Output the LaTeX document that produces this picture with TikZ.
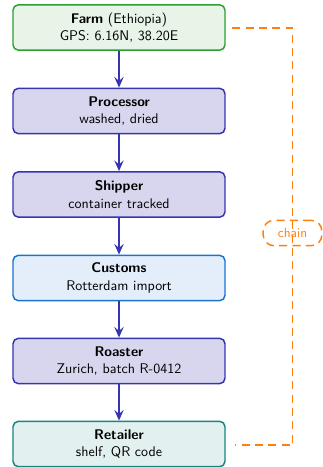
\documentclass[tikz,border=0pt]{standalone}
\usetikzlibrary{arrows.meta}
\definecolor{farmD}{HTML}{2E9E35}
\definecolor{farmL}{HTML}{E8F4E8}
\definecolor{procD}{HTML}{3535B0}
\definecolor{procL}{HTML}{D7D6EE}
\definecolor{custD}{HTML}{1A73D0}
\definecolor{custL}{HTML}{E3EEFA}
\definecolor{retD}{HTML}{17877E}
\definecolor{retL}{HTML}{E2F0EF}
\definecolor{chainC}{HTML}{FF7F0E}
\tikzset{
  box/.style={rectangle, rounded corners=4pt, line width=1.1pt, minimum width=159pt, minimum height=34pt, align=center, font=\sffamily\fontsize{10.5}{13}\selectfont, inner sep=2pt},
  farmbox/.style={box, draw=farmD, fill=farmL},
  procbox/.style={box, draw=procD, fill=procL},
  custbox/.style={box, draw=custD, fill=custL},
  retbox/.style={box, draw=retD, fill=retL},
  flow/.style={draw=procD, line width=1.2pt, -{Stealth[length=8pt,width=7pt,inset=3pt]}},
  chainline/.style={draw=chainC, line width=1.1pt, dash pattern=on 6pt off 4pt},
  chainlbl/.style={draw=chainC, line width=1.1pt, dash pattern=on 6pt off 4pt, rounded corners=8pt, text=chainC, font=\sffamily\fontsize{10}{12}\selectfont, minimum width=44pt, minimum height=19pt, inner sep=2pt}
}
\begin{document}
\begin{tikzpicture}[x=0.75pt,y=-0.75pt]
\useasboundingbox (0,0) rectangle (322,467);
\node[farmbox] (farm) at (119,27.5) {\textbf{Farm} (Ethiopia)\\GPS: 6.16N, 38.20E};
\node[procbox] (proc) at (119,111) {\textbf{Processor}\\washed, dried};
\node[procbox] (ship) at (119,194.5) {\textbf{Shipper}\\container tracked};
\node[custbox] (cust) at (119,278) {\textbf{Customs}\\Rotterdam import};
\node[procbox] (roast) at (119,361) {\textbf{Roaster}\\Zurich, batch R-0412};
\node[retbox] (ret) at (119,444) {\textbf{Retailer}\\shelf, QR code};
\draw[flow] (farm) -- (proc);
\draw[flow] (proc) -- (ship);
\draw[flow] (ship) -- (cust);
\draw[flow] (cust) -- (roast);
\draw[flow] (roast) -- (ret);
\coordinate (c1) at (292.5,28);
\coordinate (c2) at (292.5,445);
\draw[chainline] ([xshift=5pt]farm.east |- c1) -- (c1) -- (c2) -- ([xshift=7pt]ret.east |- c2);
\node[chainlbl] (chain) at (292.5,233) {chain};
\end{tikzpicture}
\end{document}
